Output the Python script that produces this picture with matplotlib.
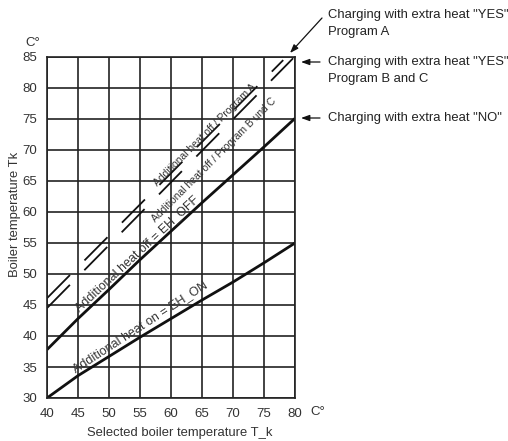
import matplotlib
matplotlib.use("Agg")
import matplotlib.pyplot as plt

plt.rcParams['font.family'] = ['Liberation Sans', 'DejaVu Sans']
plt.rcParams['lines.scale_dashes'] = False

# selected boiler temperature (x) and curves
x_sel = [40, 45, 50, 55, 60, 65, 70, 75, 80]
eh_on = [30, 33.6, 36.7, 39.8, 42.8, 45.8, 48.7, 51.8, 55]
eh_off = [37.8, 42.8, 47.5, 52.3, 56.9, 61.5, 66.0, 70.5, 75.1]

prog_a_x = [40, 78.1]
prog_a_y = [46.1, 84.5]
prog_bc_x = [40, 79.7]
prog_bc_y = [44.5, 84.8]

x_ticks = [40, 45, 50, 55, 60, 65, 70, 75, 80]
y_ticks = [30, 35, 40, 45, 50, 55, 60, 65, 70, 75, 80, 85]

W, H = 508, 441
fig = plt.figure(figsize=(W / 100, H / 100), dpi=100)
ax = fig.add_axes([47 / W, 1 - 398 / H, 248 / W, 341 / H])

ax.set_xlim(40, 80)
ax.set_ylim(30, 85)
ax.set_xticks(x_ticks)
ax.set_yticks(y_ticks)
ax.tick_params(length=0, labelsize=9.5, labelcolor='#333333', pad=7)
ax.grid(True, color='#222222', linewidth=1.2)
for s in ax.spines.values():
    s.set_color('#222222')
    s.set_linewidth(1.2)

ax.plot(x_sel, eh_on, color='#111111', linewidth=2.0, solid_capstyle='butt')
ax.plot(x_sel, eh_off, color='#111111', linewidth=2.0, solid_capstyle='butt')
dash = (0, (23.5, 14.8))
ax.plot(prog_a_x, prog_a_y, color='#111111', linewidth=1.3, linestyle=dash)
ax.plot(prog_bc_x, prog_bc_y, color='#111111', linewidth=1.3, linestyle=dash)

# curve labels
ax.text(65.5, 72.4, "Additional heat off / Program A", rotation=45,
        fontsize=7.5, color='#333333', ha='center', va='center', rotation_mode='anchor')
ax.text(66.9, 68.4, "Additional heat off / Program B und C", rotation=45,
        fontsize=7.5, color='#333333', ha='center', va='center', rotation_mode='anchor')
ax.text(54.5, 53.2, "Additional heat off = EH_OFF", rotation=43,
        fontsize=9, color='#333333', ha='center', va='center', rotation_mode='anchor')
ax.text(55.0, 41.5, "Additional heat on = EH_ON", rotation=33,
        fontsize=9, color='#333333', ha='center', va='center', rotation_mode='anchor')

# units and axis titles
fig.text(33 / W, 1 - 43 / H, "C°", fontsize=9.5, color='#333333', ha='center', va='center')
fig.text(318 / W, 1 - 412 / H, "C°", fontsize=9.5, color='#333333', ha='center', va='center')
fig.text(180 / W, 1 - 433 / H, "Selected boiler temperature T_k", fontsize=9.4,
         color='#333333', ha='center', va='center')
fig.text(15 / W, 1 - 214 / H, "Boiler temperature Tk", fontsize=9.4, rotation=90,
         color='#333333', ha='center', va='center')

# right-hand notes with arrows
notes = [
    ('Charging with extra heat "YES"\nProgram A', 15, (322, 18), (290, 53)),
    ('Charging with extra heat "YES"\nProgram B and C', 62, (320, 62), (301, 62)),
    ('Charging with extra heat "NO"', 118, (320, 118), (301, 118)),
]
for label, ty, start, end in notes:
    for i, ln in enumerate(label.split('\n')):
        fig.text(328 / W, 1 - (ty + 17 * i) / H, ln, fontsize=9.4, color='#222222',
                 ha='left', va='center')
    ax.annotate('', xy=(end[0], H - end[1]), xycoords='figure pixels',
                xytext=(start[0], H - start[1]), textcoords='figure pixels',
                arrowprops=dict(arrowstyle='-|>,head_length=0.5,head_width=0.18',
                                color='#111111', linewidth=0.9, shrinkA=0, shrinkB=0))

fig.savefig("out.png", dpi=100)
